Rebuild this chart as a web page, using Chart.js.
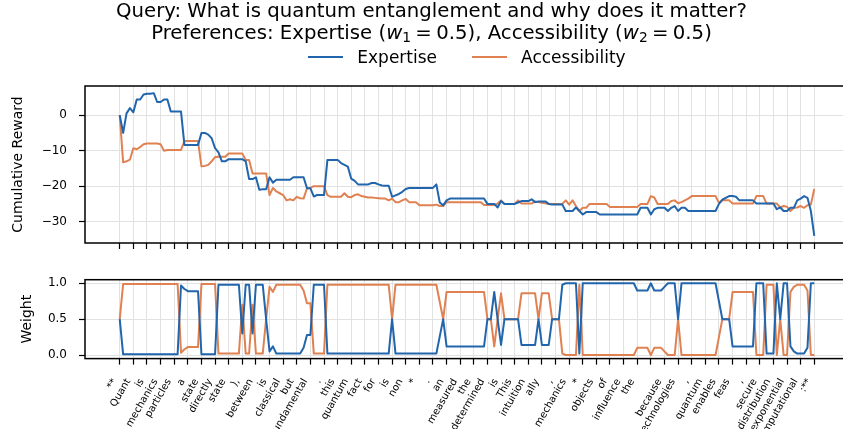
<!DOCTYPE html>
<html>
<head>
<meta charset="utf-8">
<script src="https://cdn.jsdelivr.net/npm/chart.js@4.4.1/dist/chart.umd.min.js"></script>
<style>
  html, body { margin: 0; padding: 0; background: #fff; }
  #wrap { position: relative; width: 843px; height: 429px; overflow: hidden; font-family: 'DejaVu Sans', sans-serif; color: #000; }
  #title { position: absolute; left: 0; top: 0; width: 863px; text-align: center; font-size: 19.7px; line-height: 22px; white-space: nowrap; }
  #title sub { font-size: 0.7em; vertical-align: -0.25em; line-height: 0; }
  #title .eq { margin: 0 0.22em; }
  #legend { position: absolute; left: 0; top: 47px; width: 934px; display: flex; justify-content: center; align-items: center; font-size: 17px; line-height: 20px; }
  .item { display: flex; align-items: center; margin: 0 17.5px; }
  .swatch { width: 35px; height: 2.5px; margin-right: 14px; }
  canvas { position: absolute; left: 0; }
  #rewardChart { top: 0; }
  #weightChart { top: 265px; }
</style>
</head>
<body>
<div id="wrap">
  <canvas id="rewardChart" width="870" height="252"></canvas>
  <canvas id="weightChart" width="870" height="164"></canvas>
  <div id="title">Query: What is quantum entanglement and why does it matter?<br>Preferences: Expertise (<i>w</i><sub>1</sub><span class="eq">=</span>0.5), Accessibility (<i>w</i><sub>2</sub><span class="eq">=</span>0.5)</div>
  <div id="legend"></div>
</div>
<script>
// Token labels shown under every 4th generated token
const tokenLabels = ["**","Quant","is","mechanics","particles","a","state","directly","state","),",
  "between","is","classical","but","fundamental",".","this","quantum","fact","for",
  "is","non","*",".","an","measured","the","determined","is","This",
  "intuition","ally",",","mechanics","*","objects","of","influence","the","",
  "because","technologies",",","quantum","enables","feas",",","secure","distribution","exponential",
  "computational",":**"];

const seriesNames = ["Expertise", "Accessibility"];
const seriesColors = ["#2166ac", "#e08152"];

// Cumulative reward per token
const expertiseReward = [
  0, -5.0, 0.5, 2.0, 0.8, 4.4, 4.4, 5.8, 6.0, 6.0,
  6.2, 3.7, 3.7, 4.4, 4.4, 1.0, 1.0, 1.0, 1.0, -8.4,
  -8.4, -8.4, -8.4, -8.4, -5.0, -5.0, -5.5, -6.5, -9.3, -10.5,
  -13.0, -13.0, -12.4, -12.4, -12.4, -12.4, -12.4, -13.0, -18.0, -18.0,
  -17.5, -21.0, -20.9, -20.9, -17.5, -19.0, -18.2, -18.2, -18.2, -18.2,
  -18.2, -17.5, -17.5, -17.5, -17.5, -20.6, -20.6, -22.9, -22.5, -22.5,
  -22.5, -12.6, -12.6, -12.6, -12.6, -13.5, -14.0, -14.5, -17.9, -18.5,
  -19.5, -19.5, -19.5, -19.5, -19.1, -19.1, -19.5, -19.8, -19.9, -19.9,
  -23.0, -22.6, -22.2, -21.6, -20.8, -20.5, -20.5, -20.5, -20.5, -20.5,
  -20.5, -20.5, -20.5, -19.5, -24.6, -25.4, -24.0, -23.5, -23.5, -23.5,
  -23.5, -23.5, -23.5, -23.5, -23.5, -23.5, -23.5, -23.5, -25.0, -25.0,
  -25.0, -26.0, -24.2, -25.0, -25.0, -25.0, -25.0, -24.6, -24.2, -24.2,
  -24.2, -23.7, -24.5, -24.3, -24.3, -24.3, -25.0, -25.2, -25.2, -25.2,
  -25.2, -27.0, -27.0, -27.0, -26.0, -27.0, -28.0, -27.3, -27.3, -27.3,
  -27.3, -28.0, -28.0, -28.0, -28.0, -28.0, -28.0, -28.0, -28.0, -28.0,
  -28.0, -28.0, -28.0, -26.1, -26.1, -26.1, -28.0, -26.5, -26.1, -26.1,
  -26.1, -27.0, -26.1, -25.6, -27.0, -26.1, -26.1, -27.0, -27.0, -27.0,
  -27.0, -27.0, -27.0, -27.0, -27.0, -27.0, -25.0, -23.8, -23.3, -22.8,
  -22.8, -23.0, -24.0, -24.0, -24.0, -24.0, -24.0, -24.9, -24.9, -24.9,
  -24.9, -24.9, -24.9, -26.5, -26.0, -27.0, -27.0, -26.1, -26.1, -24.0,
  -23.5, -22.8, -23.3, -27.0, -34.0
];
const accessibilityReward = [
  0, -13.3, -13.0, -12.5, -9.3, -9.6, -9.0, -8.2, -8.0, -8.0,
  -8.0, -8.0, -8.2, -10.0, -9.8, -9.8, -9.8, -9.8, -9.8, -7.3,
  -7.3, -7.3, -7.3, -7.3, -14.4, -14.3, -14.0, -13.0, -11.8, -11.7,
  -11.7, -11.7, -10.8, -10.8, -10.8, -10.8, -10.8, -12.6, -12.6, -16.4,
  -16.4, -16.4, -16.4, -16.4, -22.5, -20.5, -21.5, -22.0, -22.5, -24.0,
  -23.7, -24.0, -23.0, -23.4, -23.5, -20.6, -20.5, -20.0, -20.0, -20.0,
  -20.0, -22.5, -23.0, -23.0, -23.0, -23.0, -22.0, -23.0, -23.1, -22.5,
  -22.3, -22.8, -23.0, -23.2, -23.2, -23.3, -23.4, -23.5, -23.5, -24.0,
  -23.5, -24.5, -24.5, -24.0, -23.6, -24.5, -24.5, -24.5, -25.4, -25.4,
  -25.4, -25.4, -25.4, -25.2, -25.6, -25.6, -24.5, -24.5, -24.5, -24.5,
  -24.5, -24.5, -24.5, -24.5, -24.5, -24.5, -24.5, -25.3, -25.3, -25.3,
  -25.3, -24.9, -24.0, -25.0, -25.0, -25.0, -25.0, -24.0, -24.9, -24.9,
  -24.9, -24.9, -24.3, -24.5, -24.7, -24.8, -25.0, -25.0, -25.0, -25.0,
  -25.0, -24.0, -25.2, -24.0, -25.6, -27.0, -26.1, -26.1, -25.0, -25.0,
  -25.0, -25.0, -25.0, -25.0, -25.9, -25.9, -25.9, -25.9, -25.9, -25.9,
  -25.9, -25.9, -25.9, -25.0, -25.0, -25.0, -22.8, -23.2, -25.0, -25.0,
  -25.0, -25.0, -24.2, -24.0, -24.8, -24.5, -24.0, -23.5, -22.8, -22.8,
  -22.8, -22.8, -22.8, -22.8, -22.8, -22.8, -24.7, -24.0, -24.0, -24.0,
  -24.9, -24.9, -24.9, -24.9, -24.9, -24.9, -24.9, -22.8, -22.8, -22.8,
  -24.9, -24.9, -24.9, -24.9, -26.0, -25.6, -25.8, -27.0, -26.1, -26.0,
  -25.6, -26.1, -25.4, -25.2, -20.8
];

// Per-token preference weights
const expertiseWeight = [
  0.5, 0.01, 0.01, 0.01, 0.01, 0.01, 0.01, 0.01, 0.01, 0.01,
  0.01, 0.01, 0.01, 0.01, 0.01, 0.01, 0.01, 0.01, 0.97, 0.92,
  0.89, 0.89, 0.89, 0.89, 0.01, 0.01, 0.01, 0.01, 0.01, 0.98,
  0.98, 0.98, 0.98, 0.98, 0.98, 0.98, 0.3, 0.98, 0.98, 0.3,
  0.98, 0.98, 0.98, 0.5, 0.05, 0.12, 0.02, 0.02, 0.02, 0.02,
  0.02, 0.02, 0.02, 0.02, 0.1, 0.28, 0.28, 0.98, 0.98, 0.98,
  0.98, 0.02, 0.02, 0.02, 0.02, 0.02, 0.02, 0.02, 0.02, 0.02,
  0.02, 0.02, 0.02, 0.02, 0.02, 0.02, 0.02, 0.02, 0.02, 0.02,
  0.5, 0.02, 0.02, 0.02, 0.02, 0.02, 0.02, 0.02, 0.02, 0.02,
  0.02, 0.02, 0.02, 0.02, 0.26, 0.5, 0.12, 0.12, 0.12, 0.12,
  0.12, 0.12, 0.12, 0.12, 0.12, 0.12, 0.12, 0.12, 0.5, 0.5,
  0.88, 0.5, 0.14, 0.5, 0.5, 0.5, 0.5, 0.5, 0.14, 0.14,
  0.14, 0.14, 0.14, 0.5, 0.14, 0.14, 0.14, 0.5, 0.5, 0.5,
  0.98, 1.0, 1.0, 1.0, 1.0, 0.02, 1.0, 1.0, 1.0, 1.0,
  1.0, 1.0, 1.0, 1.0, 1.0, 1.0, 1.0, 1.0, 1.0, 1.0,
  1.0, 1.0, 0.9, 0.9, 0.9, 0.9, 1.0, 0.9, 0.9, 0.9,
  0.95, 1.0, 1.0, 1.0, 0.5, 1.0, 1.0, 1.0, 1.0, 1.0,
  1.0, 1.0, 1.0, 1.0, 1.0, 1.0, 0.75, 0.5, 0.5, 0.5,
  0.12, 0.12, 0.12, 0.12, 0.12, 0.12, 0.12, 1.0, 1.0, 1.0,
  0.02, 0.02, 0.02, 1.0, 0.5, 1.0, 1.0, 0.12, 0.05, 0.02,
  0.02, 0.02, 0.1, 1.0, 1.0
];
const accessibilityWeight = [
  0.5, 0.99, 0.99, 0.99, 0.99, 0.99, 0.99, 0.99, 0.99, 0.99,
  0.99, 0.99, 0.99, 0.99, 0.99, 0.99, 0.99, 0.99, 0.03, 0.08,
  0.11, 0.11, 0.11, 0.11, 0.99, 0.99, 0.99, 0.99, 0.99, 0.02,
  0.02, 0.02, 0.02, 0.02, 0.02, 0.02, 0.7, 0.02, 0.02, 0.7,
  0.02, 0.02, 0.02, 0.5, 0.95, 0.88, 0.98, 0.98, 0.98, 0.98,
  0.98, 0.98, 0.98, 0.98, 0.9, 0.72, 0.72, 0.02, 0.02, 0.02,
  0.02, 0.98, 0.98, 0.98, 0.98, 0.98, 0.98, 0.98, 0.98, 0.98,
  0.98, 0.98, 0.98, 0.98, 0.98, 0.98, 0.98, 0.98, 0.98, 0.98,
  0.5, 0.98, 0.98, 0.98, 0.98, 0.98, 0.98, 0.98, 0.98, 0.98,
  0.98, 0.98, 0.98, 0.98, 0.74, 0.5, 0.88, 0.88, 0.88, 0.88,
  0.88, 0.88, 0.88, 0.88, 0.88, 0.88, 0.88, 0.88, 0.5, 0.5,
  0.12, 0.5, 0.86, 0.5, 0.5, 0.5, 0.5, 0.5, 0.86, 0.86,
  0.86, 0.86, 0.86, 0.5, 0.86, 0.86, 0.86, 0.5, 0.5, 0.5,
  0.02, 0.0, 0.0, 0.0, 0.0, 0.98, 0.0, 0.0, 0.0, 0.0,
  0.0, 0.0, 0.0, 0.0, 0.0, 0.0, 0.0, 0.0, 0.0, 0.0,
  0.0, 0.0, 0.1, 0.1, 0.1, 0.1, 0.0, 0.1, 0.1, 0.1,
  0.05, 0.0, 0.0, 0.0, 0.5, 0.0, 0.0, 0.0, 0.0, 0.0,
  0.0, 0.0, 0.0, 0.0, 0.0, 0.0, 0.25, 0.5, 0.5, 0.5,
  0.88, 0.88, 0.88, 0.88, 0.88, 0.88, 0.88, 0.0, 0.0, 0.0,
  0.98, 0.98, 0.98, 0.0, 0.5, 0.0, 0.0, 0.88, 0.95, 0.98,
  0.98, 0.98, 0.9, 0.0, 0.0
];

const rewardTicks = [-30, -20, -10, 0];
const weightTicks = [0, 0.5, 1];

const FONT = "'DejaVu Sans', sans-serif";
const TICK_STEP = 4;
const lastIndex = expertiseReward.length - 1;
const xMargin = lastIndex * 0.05;
const GRID = '#e2e2e2';

// Box drawn around the plotting area on all four sides
const frame = {
  id: 'frame',
  afterDraw(chart) {
    const { ctx, chartArea: a } = chart;
    ctx.save();
    ctx.strokeStyle = '#000';
    ctx.lineWidth = 1.5;
    ctx.strokeRect(a.left, a.top, a.right - a.left, a.bottom - a.top);
    ctx.restore();
  }
};

// Keep the plotting area fixed: no extra room reserved for overhanging tick labels
function noOverhang(s) {
  s.paddingTop = 0; s.paddingBottom = 0; s.paddingLeft = 0; s.paddingRight = 0;
}

const toPoints = arr => arr.map((v, i) => ({ x: i, y: v }));

function series(k, values) {
  return {
    label: seriesNames[k],
    data: toPoints(values),
    borderColor: seriesColors[k],
    backgroundColor: seriesColors[k],
    borderWidth: 2,
    pointRadius: 0,
    tension: 0,
    borderJoinStyle: 'round',
    fill: false
  };
}

function xAxis(showLabels, height) {
  return {
    type: 'linear',
    min: -xMargin,
    max: lastIndex + xMargin,
    afterBuildTicks(s) { s.ticks = tokenLabels.map((_, k) => ({ value: k * TICK_STEP })); },
    afterFit(s) { s.height = height; noOverhang(s); },
    border: { display: false },
    grid: { color: GRID, lineWidth: 1, tickColor: '#000', tickLength: 6, tickWidth: 1.2 },
    ticks: {
      display: showLabels,
      autoSkip: false,
      minRotation: 60,
      maxRotation: 60,
      padding: 12,
      labelOffset: -5,
      color: '#000',
      font: { family: FONT, size: 10 },
      callback: v => tokenLabels[Math.round(v / TICK_STEP)]
    }
  };
}

function yAxis(tickValues, min, max, title, titlePad, fmt) {
  return {
    type: 'linear',
    min, max,
    afterBuildTicks(s) { s.ticks = tickValues.map(v => ({ value: v })); },
    afterFit(s) { s.width = 85; noOverhang(s); },
    border: { display: false },
    grid: { color: GRID, lineWidth: 1, tickColor: '#000', tickLength: 6, tickWidth: 1.2 },
    ticks: { padding: 12, color: '#000', font: { family: FONT, size: 12 }, callback: fmt },
    title: { display: true, text: title, color: '#000', font: { family: FONT, size: 14 }, padding: { top: titlePad, bottom: 0 } }
  };
}

const allRewards = expertiseReward.concat(accessibilityReward);
const rMin = Math.min(...allRewards), rMax = Math.max(...allRewards);
const rPad = (rMax - rMin) * 0.05;

const minusFmt = v => (v < 0 ? '\u2212' + Math.abs(v) : String(v));

const common = {
  responsive: false,
  animation: false,
  events: [],
  plugins: { legend: { display: false }, tooltip: { enabled: false } }
};

const rewardChart = new Chart(document.getElementById('rewardChart'), {
  type: 'line',
  data: { datasets: [series(0, expertiseReward), series(1, accessibilityReward)] },
  options: Object.assign({}, common, {
    layout: { padding: { top: 86, right: 21, bottom: 0, left: 0 } },
    scales: {
      x: xAxis(false, 9),
      y: yAxis(rewardTicks, rMin - rPad, rMax + rPad, 'Cumulative Reward', 10, minusFmt)
    }
  }),
  plugins: [frame]
});

const weightChart = new Chart(document.getElementById('weightChart'), {
  type: 'line',
  data: { datasets: [series(0, expertiseWeight), series(1, accessibilityWeight)] },
  options: Object.assign({}, common, {
    layout: { padding: { top: 14.7, right: 21, bottom: 0, left: 0 } },
    scales: {
      x: xAxis(true, 70.4),
      y: yAxis(weightTicks, -0.05, 1.05, 'Weight', 19, v => v.toFixed(1))
    }
  }),
  plugins: [frame]
});

// Legend built from the reward chart's datasets
const legend = document.getElementById('legend');
rewardChart.data.datasets.forEach(ds => {
  const item = document.createElement('div');
  item.className = 'item';
  const sw = document.createElement('span');
  sw.className = 'swatch';
  sw.style.background = ds.borderColor;
  const tx = document.createElement('span');
  tx.textContent = ds.label;
  item.appendChild(sw);
  item.appendChild(tx);
  legend.appendChild(item);
});
</script>
</body>
</html>
